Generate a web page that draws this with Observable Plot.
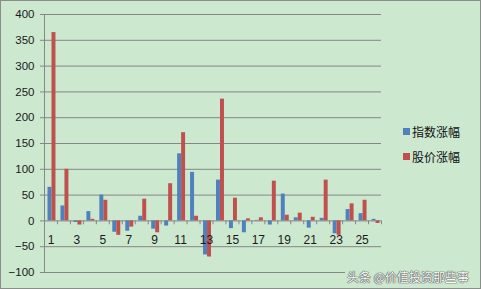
<!DOCTYPE html>
<html>
<head>
<meta charset="utf-8">
<script src="https://cdn.jsdelivr.net/npm/d3@7"></script>
<script src="https://cdn.jsdelivr.net/npm/@observablehq/plot@0.6"></script>
<style>
  html, body { margin: 0; padding: 0; background: #cce8cf; }
  #wrap { position: relative; width: 481px; height: 289px; background: #cce8cf; overflow: hidden; }
  #wrap svg { position: absolute; left: 0; top: 0; }
  #border { position: absolute; left: 0; top: 0; width: 481px; height: 289px; box-sizing: border-box; border: 1px solid #8c8c8c; pointer-events: none; }
  #legend { position: absolute; left: 403px; top: 119px; font-family: "Noto Sans CJK SC", sans-serif; font-size: 12px; color: #111; }
  #legend .row { height: 25px; line-height: 18px; display: flex; align-items: center; }
  #legend .sw { width: 7px; height: 7px; margin-right: 2px; }
  #wm { position: absolute; left: 345px; top: 268px; padding: 0 2px; background: #cce8cf; font-family: "Noto Sans CJK SC", sans-serif; font-size: 12px; color: #ffffff; text-shadow: 0 0 1px #444, 0 0 1px #444, 0 0 1px #444; }
</style>
</head>
<body>
<div id="wrap"></div>
<script>
const categories = [1,2,3,4,5,6,7,8,9,10,11,12,13,14,15,16,17,18,19,20,21,22,23,24,25,26];
const indexChange = [65,29,-3,18,50,-22,-20,9,-16,-10,130,94,-66,79,-15,-23,1,-8,52,6,-14,5,-25,22,14,3];
const priceChange = [365,100,-8,3,40,-28,-12,42,-23,72,171,9,-70,236,44,4,6,77,11,15,7,79,-28,33,40,-5];
const seriesNames = ["指数涨幅", "股价涨幅"];
const seriesColors = ["#4f81bd", "#c0504d"];
const yTicks = [-100,-50,0,50,100,150,200,250,300,350,400];
const xTickLabels = [1,3,5,7,9,11,13,15,17,19,21,23,25];

const data = categories.map((c, i) => ({cat: c, idx: indexChange[i], price: priceChange[i]}));
const bounds = [0, ...categories].map(c => c + 0.5);
const grid = "#868686";

const chart = Plot.plot({
  width: 481,
  height: 289,
  marginLeft: 44,
  marginRight: 100,
  marginTop: 14,
  marginBottom: 17,
  style: {background: "transparent", fontFamily: "'Liberation Sans', Arial, sans-serif", fontSize: "11.5px", color: "#1a1a1a"},
  x: {domain: [0.5, 26.5], axis: null},
  y: {domain: [-100, 400], axis: null},
  marks: [
    Plot.gridY(yTicks, {stroke: grid, strokeOpacity: 1}),
    Plot.axisY(yTicks, {tickSize: 4, tickPadding: 6, stroke: grid, fill: "#1a1a1a", fontSize: 11.5}),
    Plot.ruleX([0.5], {y1: -100, y2: 400, stroke: grid}),
    Plot.ruleX(bounds, {x: d => d, y1: 0, y2: -7.5, stroke: grid}),
    Plot.rectY(data, {x1: d => d.cat - 0.5, x2: d => d.cat + 0.5, y: "idx", fill: seriesColors[0], insetLeft: 3.5, insetRight: 5.5}),
    Plot.rectY(data, {x1: d => d.cat - 0.5, x2: d => d.cat + 0.5, y: "price", fill: seriesColors[1], insetLeft: 7.5, insetRight: 1.5}),
    Plot.text(xTickLabels, {x: d => d, y: 0, dy: 19, fill: "#1a1a1a", fontSize: 12})
  ]
});

const wrap = document.getElementById("wrap");
wrap.appendChild(chart);

const legend = document.createElement("div");
legend.id = "legend";
seriesNames.forEach((name, i) => {
  const row = document.createElement("div");
  row.className = "row";
  const sw = document.createElement("span");
  sw.className = "sw";
  sw.style.background = seriesColors[i];
  const t = document.createElement("span");
  t.textContent = name;
  row.appendChild(sw);
  row.appendChild(t);
  legend.appendChild(row);
});
wrap.appendChild(legend);

const wm = document.createElement("div");
wm.id = "wm";
wm.textContent = "头条 @价值投资那些事";
wrap.appendChild(wm);

const border = document.createElement("div");
border.id = "border";
wrap.appendChild(border);
</script>
</body>
</html>
